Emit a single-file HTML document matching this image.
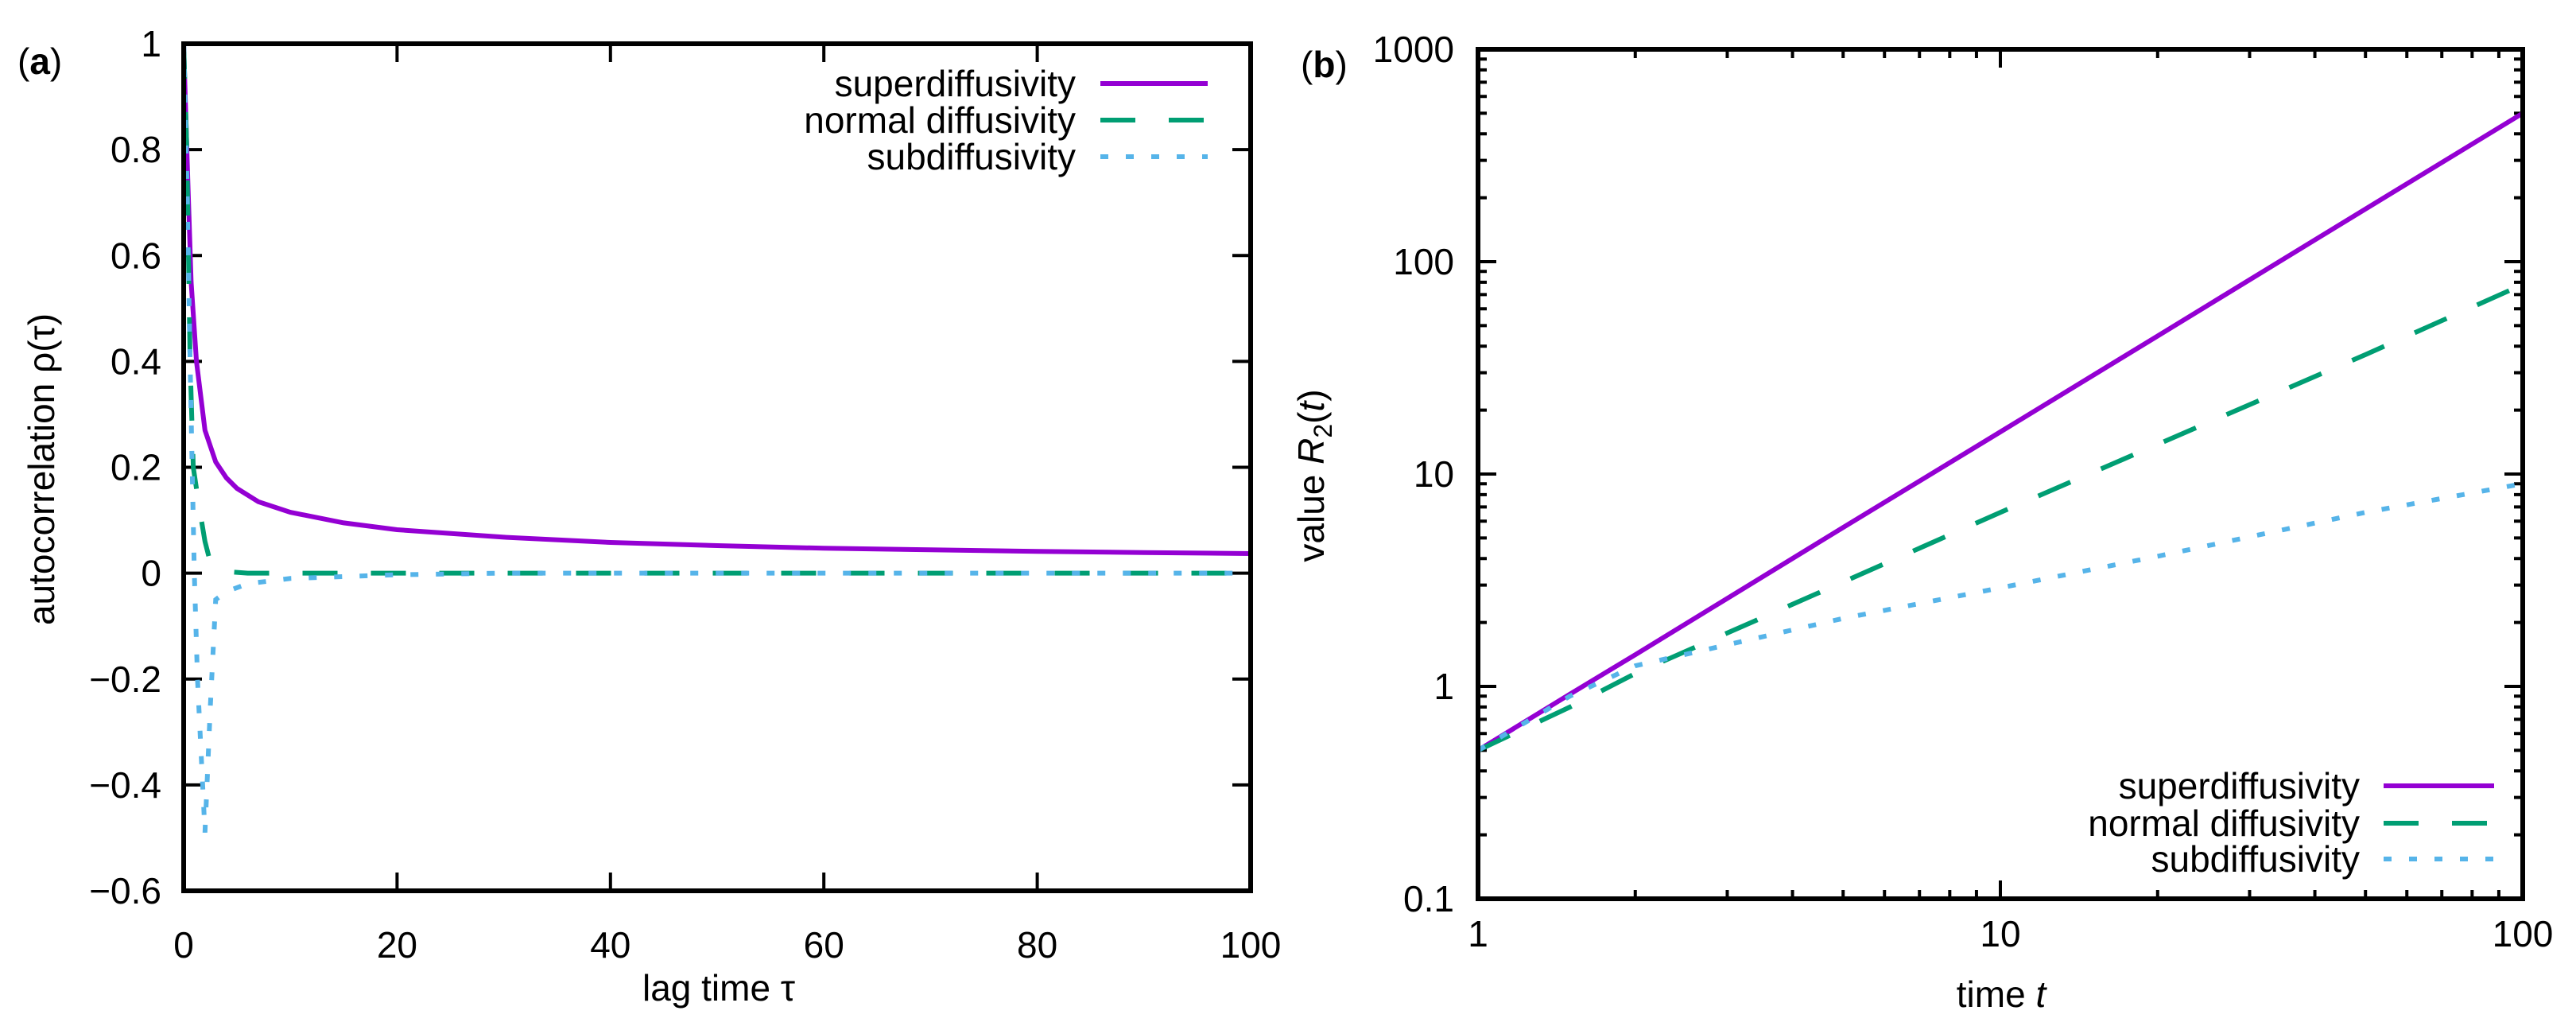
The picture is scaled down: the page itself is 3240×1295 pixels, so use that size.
<!DOCTYPE html>
<html><head><meta charset="utf-8"><style>
html,body{margin:0;padding:0;background:#fff}
svg{display:block}
text{font-family:"Liberation Sans",sans-serif;fill:#000}
</style></head><body>
<svg id="fig" width="3240" height="1295" viewBox="0 0 3240 1295" xmlns="http://www.w3.org/2000/svg">
<g id="pa"></g>
<g id="pb"></g>
</svg>
<script>
// Panel (a) data
const tauSuper = [0,0.3,0.7,1.2,2,3,4,5,7,10,15,20,30,40,50,60,70,80,90,100];
const rhoSuper = [1,0.8,0.55,0.4,0.27,0.21,0.18,0.16,0.135,0.115,0.095,0.082,0.068,0.058,0.052,0.047,0.044,0.041,0.039,0.037];
const tauNormal = [0,0.3,0.6,0.9,1.5,2,2.5,3,4,6,100];
const rhoNormal = [1,0.8,0.4,0.2,0.12,0.06,0.02,0.01,0.003,0,0];
const tauSub = [0,0.3,0.6,0.8,1.0,1.3,2,2.5,3,4,6,10,20,30,100];
const rhoSub = [1,0.75,0.4,0.2,0.0,-0.2,-0.49,-0.25,-0.05,-0.035,-0.02,-0.01,-0.003,0,0];
const aXTicks = [0,20,40,60,80,100];
const aYTicks = [-0.6,-0.4,-0.2,0,0.2,0.4,0.6,0.8,1];
const aYLabels = ["\u22120.6","\u22120.4","\u22120.2","0","0.2","0.4","0.6","0.8","1"];
// Panel (b) data
const tB = [1,1.5,2,5,10,20,50,100];
const rSuper = [0.5,0.92,1.41,5.6,15.8,44.7,177,500];
const rNormal = [0.5,0.8,1.15,3.1,6.6,13.8,36.5,78];
const rSub = [0.5,0.9,1.25,2.09,2.91,4.1,6.6,9.0];
const bXTicks = [1,10,100];
const bYTicks = [0.1,1,10,100,1000];
const bYLabels = ["0.1","1","10","100","1000"];

const NS="http://www.w3.org/2000/svg";
function mk(parent,tag,attrs,txt){const e=document.createElementNS(NS,tag);for(const k in attrs)e.setAttribute(k,attrs[k]);if(txt!==undefined)e.textContent=txt;parent.appendChild(e);return e;}
const COL={s:"#9400d3",n:"#009e73",b:"#56b4e9"};
const DASH={s:"none",n:"44 42",b:"10 22"};

// ---------- Panel A ----------
const pa=document.getElementById('pa');
const A={x0:231,x1:1573,y0:55,y1:1120};
const ax=v=>A.x0+(v-0)/(100-0)*(A.x1-A.x0);
const ay=v=>A.y1-(v-(-0.6))/(1.6)*(A.y1-A.y0);
function seriesA(xs,ys,key,name){
  const d=xs.map((x,i)=>(i?'L':'M')+ax(x).toFixed(1)+' '+ay(ys[i]).toFixed(1)).join(' ');
  const p=mk(pa,'path',{d:d,fill:'none',stroke:COL[key],'stroke-width':6,'stroke-dasharray':DASH[key],'clip-path':'url(#clipA)'});
  
  
}
const defs=mk(document.getElementById('fig'),'defs',{});
const ca=mk(defs,'clipPath',{id:'clipA'});mk(ca,'rect',{x:A.x0,y:A.y0,width:A.x1-A.x0,height:A.y1-A.y0});
const cb=mk(defs,'clipPath',{id:'clipB'});
aXTicks.forEach(v=>{
  const x=ax(v);
  const t=mk(pa,'path',{d:`M${x} ${A.y1}v-23M${x} ${A.y0}v23`,stroke:'#000','stroke-width':4});
  
  const l=mk(pa,'text',{x:x,y:1204,'font-size':46,'text-anchor':'middle'},String(v));
  
});
aYTicks.forEach((v,i)=>{
  const y=ay(v);
  const t=mk(pa,'path',{d:`M${A.x0} ${y}h23M${A.x1} ${y}h-23`,stroke:'#000','stroke-width':4});
  
  const l=mk(pa,'text',{x:203,y:y+16,'font-size':46,'text-anchor':'end'},aYLabels[i]);
  
});
seriesA(tauSuper,rhoSuper,'s','line-superdiffusivity-a');
seriesA(tauNormal,rhoNormal,'n','line-normal-diffusivity-a');
seriesA(tauSub,rhoSub,'b','line-subdiffusivity-a');
mk(pa,'rect',{x:A.x0,y:A.y0,width:A.x1-A.x0,height:A.y1-A.y0,fill:'none',stroke:'#000','stroke-width':6,});
mk(pa,'text',{x:904,y:1258,'font-size':46,'text-anchor':'middle',},'lag time \u03c4');
mk(pa,'text',{x:0,y:0,'font-size':46,'text-anchor':'middle',transform:'translate(68 590) rotate(-90)',},'autocorrelation \u03c1(\u03c4)');
const la=mk(pa,'text',{x:22,y:93,'font-size':46,},'(');
mk(la,'tspan',{'font-weight':'bold'},'a');mk(la,'tspan',{},')');
const legA=[['superdiffusivity','s',105],['normal diffusivity','n',151],['subdiffusivity','b',197]];
legA.forEach(([t,k,y])=>{
  mk(pa,'text',{x:1353,y:y+16,'font-size':46,'text-anchor':'end',},t);
  mk(pa,'path',{d:`M1384 ${y}H1519`,stroke:COL[k],'stroke-width':6,'stroke-dasharray':DASH[k],});
});

// ---------- Panel B ----------
const pb=document.getElementById('pb');
const B={x0:1859,x1:3173,y0:62,y1:1130};
mk(cb,'rect',{x:B.x0,y:B.y0,width:B.x1-B.x0,height:B.y1-B.y0});
const bx=v=>B.x0+Math.log10(v)/2*(B.x1-B.x0);
const by=v=>B.y1-(Math.log10(v)+1)/4*(B.y1-B.y0);
for(let d=1;d<100;d*=10){for(let m=2;m<10;m++){const x=bx(d*m);
  const t=mk(pb,'path',{d:`M${x} ${B.y1}v-11M${x} ${B.y0}v11`,stroke:'#000','stroke-width':4});
  }}
for(let d=0.1;d<1000;d*=10){for(let m=2;m<10;m++){const y=by(d*m);
  const t=mk(pb,'path',{d:`M${B.x0} ${y}h11M${B.x1} ${y}h-11`,stroke:'#000','stroke-width':4});
  }}
bXTicks.forEach(v=>{
  const x=bx(v);
  const t=mk(pb,'path',{d:`M${x} ${B.y1}v-23M${x} ${B.y0}v23`,stroke:'#000','stroke-width':4});
  
  const l=mk(pb,'text',{x:x,y:1190,'font-size':46,'text-anchor':'middle'},String(v));
  
});
bYTicks.forEach((v,i)=>{
  const y=by(v);
  const t=mk(pb,'path',{d:`M${B.x0} ${y}h23M${B.x1} ${y}h-23`,stroke:'#000','stroke-width':4});
  
  const l=mk(pb,'text',{x:1829,y:y+16,'font-size':46,'text-anchor':'end'},bYLabels[i]);
  
});
function seriesB(xs,ys,key,name){
  const d=xs.map((x,i)=>(i?'L':'M')+bx(x).toFixed(1)+' '+by(ys[i]).toFixed(1)).join(' ');
  const p=mk(pb,'path',{d:d,fill:'none',stroke:COL[key],'stroke-width':6,'stroke-dasharray':DASH[key],'clip-path':'url(#clipB)'});
  
  
}
seriesB(tB,rSuper,'s','line-superdiffusivity-b');
seriesB(tB,rNormal,'n','line-normal-diffusivity-b');
seriesB(tB,rSub,'b','line-subdiffusivity-b');
mk(pb,'rect',{x:B.x0,y:B.y0,width:B.x1-B.x0,height:B.y1-B.y0,fill:'none',stroke:'#000','stroke-width':6,});
const xtb=mk(pb,'text',{x:2517,y:1266,'font-size':46,'text-anchor':'middle',},'time ');
mk(xtb,'tspan',{'font-style':'italic'},'t');
const ytb=mk(pb,'text',{x:0,y:0,'font-size':46,'text-anchor':'middle',transform:'translate(1665 598) rotate(-90)',},'value ');
mk(ytb,'tspan',{'font-style':'italic'},'R');
mk(ytb,'tspan',{'font-size':32,dy:10},'2');
mk(ytb,'tspan',{dy:-10},'(');
mk(ytb,'tspan',{'font-style':'italic'},'t');
mk(ytb,'tspan',{},')');
const lb=mk(pb,'text',{x:1636,y:97,'font-size':46,},'(');
mk(lb,'tspan',{'font-weight':'bold'},'b');mk(lb,'tspan',{},')');
const legB=[['superdiffusivity','s',988],['normal diffusivity','n',1035],['subdiffusivity','b',1080]];
legB.forEach(([t,k,y])=>{
  mk(pb,'text',{x:2968,y:y+16,'font-size':46,'text-anchor':'end',},t);
  mk(pb,'path',{d:`M2998 ${y}H3137`,stroke:COL[k],'stroke-width':6,'stroke-dasharray':DASH[k],});
});
</script>
</body></html>
